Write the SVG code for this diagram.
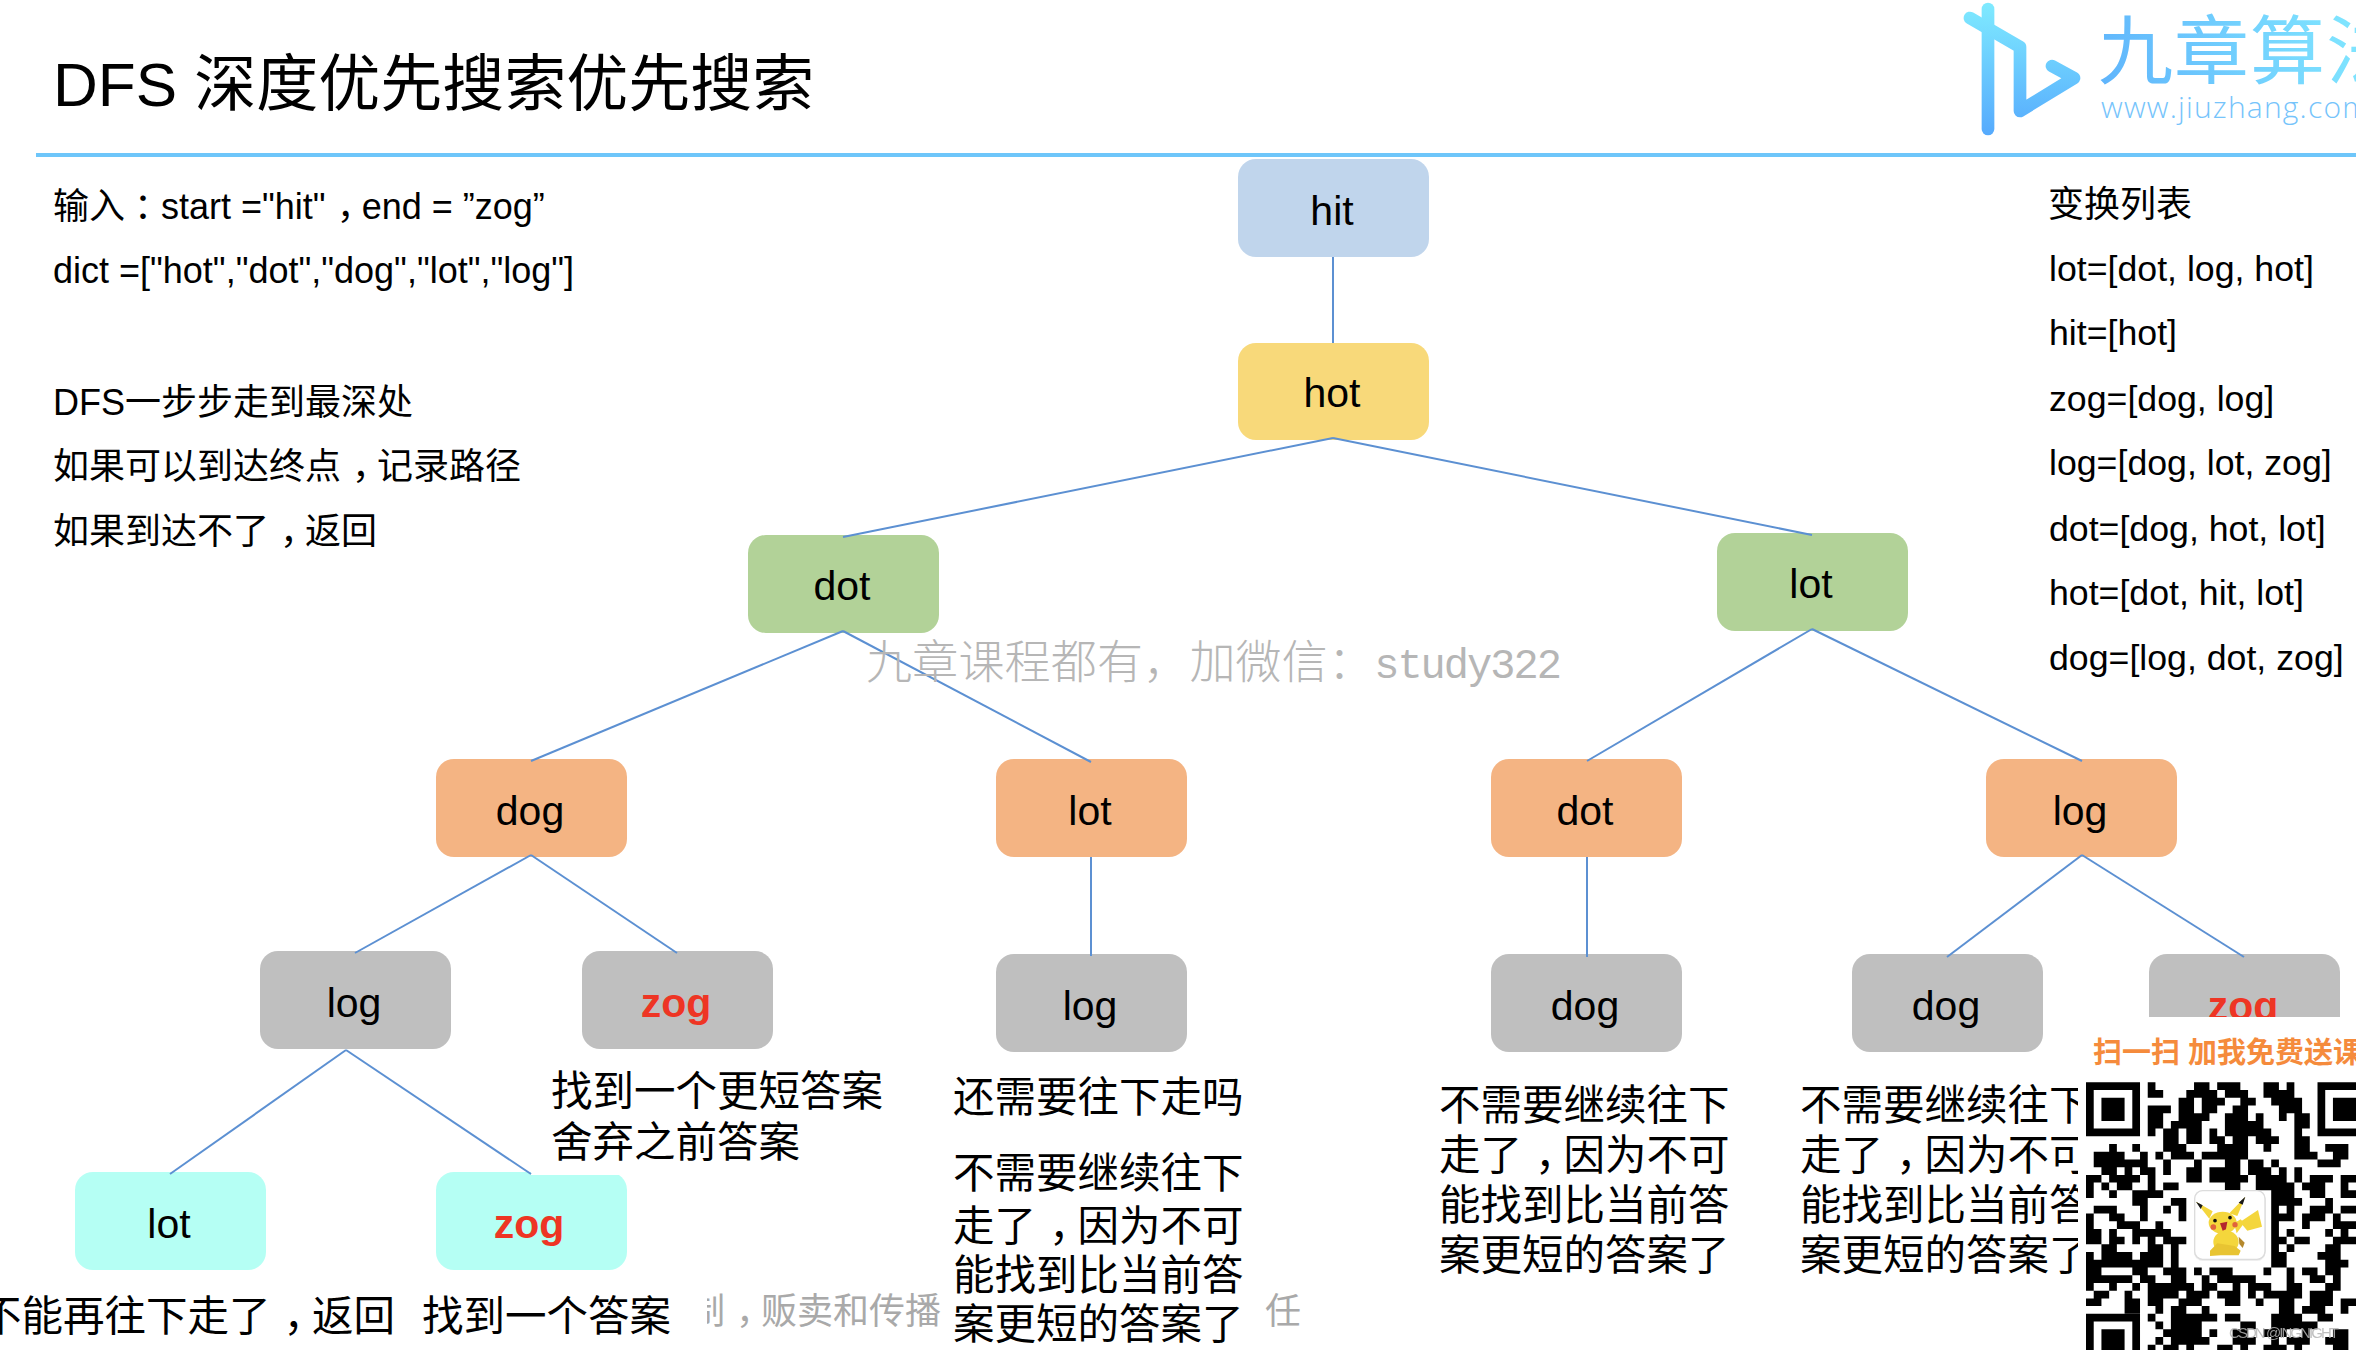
<svg xmlns="http://www.w3.org/2000/svg" width="2356" height="1350" viewBox="0 0 2356 1350">
<style>
text{font-family:"Liberation Sans","Noto Sans CJK SC",sans-serif;fill:#000}
.n{font-size:41px;text-anchor:middle}
.z{font-size:41px;font-weight:700;fill:#ee3524;text-anchor:middle}
.t{font-size:36px}
.l{font-size:35.7px}
.c{font-size:41.5px}
.g{font-size:36px;fill:#a9a9a9}
.edge{stroke:#5c90d2;stroke-width:2;fill:none}
.hit{fill:#c0d5ec}.hot{fill:#f8d97a}.gr{fill:#b2d298}.or{fill:#f4b483}.gy{fill:#bfbfbf}.cy{fill:#b5fff4}
</style>
<defs>
<linearGradient id="lg" gradientUnits="userSpaceOnUse" x1="0" y1="0" x2="0" y2="137"><stop offset="0" stop-color="#80ecff"/><stop offset="1" stop-color="#55a9fd"/></linearGradient>
<linearGradient id="lt" gradientUnits="userSpaceOnUse" x1="2100" y1="90" x2="2340" y2="10"><stop offset="0" stop-color="#5fb4fc"/><stop offset="1" stop-color="#7fe4ff"/></linearGradient>
<clipPath id="gc"><rect x="707" y="1280" width="240" height="70"/></clipPath>
<filter id="sh" x="-20%" y="-20%" width="140%" height="140%"><feDropShadow dx="0" dy="1" stdDeviation="2" flood-color="#000" flood-opacity=".2"/></filter>
</defs>
<rect width="2356" height="1350" fill="#fff"/>

<text x="53" y="106" style="font-size:62px">DFS 深度优先搜索优先搜索</text>
<rect x="36" y="153" width="2320" height="4" fill="#6ec6fa"/>

<g id="logo">
<polyline points="1970,18 2020,47 2020,111 2074,78 2052,66" fill="none" stroke="url(#lg)" stroke-width="12.7" stroke-linecap="round" stroke-linejoin="round"/>
<line x1="1988" y1="9" x2="1988" y2="129" stroke="url(#lg)" stroke-width="12.7" stroke-linecap="round"/>
<text x="2098" y="78" style="font-size:75px;letter-spacing:1px;fill:url(#lt)">九章算法</text>
<text x="2101" y="118" style="font-family:'Open Sans',sans-serif;font-weight:300;font-size:30px;letter-spacing:1.2px;fill:#76c4fb">www.jiuzhang.com</text>
</g>

<g id="intro">
<text class="t" x="53" y="219">输入<tspan dx="9">：</tspan><tspan dx="-9">start ="hit"</tspan><tspan dx="11">，</tspan><tspan dx="-11">end = ”zog”</tspan></text>
<text class="t" x="53" y="283">dict =["hot","dot","dog","lot","log"]</text>
<text class="t" x="53" y="415">DFS一步步走到最深处</text>
<text class="t" x="53" y="479">如果可以到达终点<tspan dx="11">，</tspan><tspan dx="-11">记录路径</tspan></text>
<text class="t" x="53" y="544">如果到达不了<tspan dx="11">，</tspan><tspan dx="-11">返回</tspan></text>
</g>

<g id="list">
<text class="t" x="2048" y="217">变换列表</text>
<text class="l" x="2049" y="281">lot=[dot, log, hot]</text>
<text class="l" x="2049" y="345">hit=[hot]</text>
<text class="l" x="2049" y="411">zog=[dog, log]</text>
<text class="l" x="2049" y="475">log=[dog, lot, zog]</text>
<text class="l" x="2049" y="541">dot=[dog, hot, lot]</text>
<text class="l" x="2049" y="605">hot=[dot, hit, lot]</text>
<text class="l" x="2049" y="670">dog=[log, dot, zog]</text>
</g>

<g id="copyright">
<text class="g" x="689" y="1324" clip-path="url(#gc)">制<tspan dx="11">，</tspan><tspan dx="-11">贩卖和传播</tspan></text>
<text class="g" x="1265" y="1324">任</text>
</g>

<g id="node-hit"><rect class="hit" x="1238" y="159" width="191" height="98" rx="18"/><text class="n" x="1332" y="225">hit</text></g>
<g id="node-hot"><rect class="hot" x="1238" y="343" width="191" height="97" rx="18"/><text class="n" x="1332" y="407">hot</text></g>
<g id="node-dot"><rect class="gr" x="748" y="535" width="191" height="98" rx="18"/><text class="n" x="842" y="600">dot</text></g>
<g id="node-lot"><rect class="gr" x="1717" y="533" width="191" height="98" rx="18"/><text class="n" x="1811" y="598">lot</text></g>
<g id="node-dot-dog"><rect class="or" x="436" y="759" width="191" height="98" rx="18"/><text class="n" x="530" y="825">dog</text></g>
<g id="node-dot-lot"><rect class="or" x="996" y="759" width="191" height="98" rx="18"/><text class="n" x="1090" y="825">lot</text></g>
<g id="node-lot-dot"><rect class="or" x="1491" y="759" width="191" height="98" rx="18"/><text class="n" x="1585" y="825">dot</text></g>
<g id="node-lot-log"><rect class="or" x="1986" y="759" width="191" height="98" rx="18"/><text class="n" x="2080" y="825">log</text></g>
<g id="node-dog-log"><rect class="gy" x="260" y="951" width="191" height="98" rx="18"/><text class="n" x="354" y="1017">log</text></g>
<g id="node-dog-zog"><rect class="gy" x="582" y="951" width="191" height="98" rx="18"/><text class="z" x="676" y="1017">zog</text></g>
<g id="node-lot-log2"><rect class="gy" x="996" y="954" width="191" height="98" rx="18"/><text class="n" x="1090" y="1020">log</text></g>
<g id="node-dot-dog2"><rect class="gy" x="1491" y="954" width="191" height="98" rx="18"/><text class="n" x="1585" y="1020">dog</text></g>
<g id="node-log-dog"><rect class="gy" x="1852" y="954" width="191" height="98" rx="18"/><text class="n" x="1946" y="1020">dog</text></g>
<g id="node-log-zog"><rect class="gy" x="2149" y="954" width="191" height="98" rx="18"/><text class="z" x="2243" y="1020">zog</text></g>
<g id="node-leaf-lot"><rect class="cy" x="75" y="1172" width="191" height="98" rx="18"/><text class="n" x="169" y="1238">lot</text></g>
<g id="node-leaf-zog"><rect class="cy" x="436" y="1172" width="191" height="98" rx="18"/><text class="z" x="529" y="1238">zog</text></g>
<rect x="531" y="1168" width="100" height="7" fill="#fff"/>

<g id="connectors">
<line class="edge" x1="1333" y1="257" x2="1333" y2="343"/>
<line class="edge" x1="1333" y1="438" x2="843" y2="537"/>
<line class="edge" x1="1333" y1="438" x2="1812" y2="535"/>
<line class="edge" x1="843" y1="631" x2="531" y2="761"/>
<line class="edge" x1="843" y1="631" x2="1091" y2="762"/>
<line class="edge" x1="1812" y1="629" x2="1587" y2="761"/>
<line class="edge" x1="1812" y1="629" x2="2082" y2="761"/>
<line class="edge" x1="531" y1="855" x2="355" y2="953"/>
<line class="edge" x1="531" y1="855" x2="677" y2="953"/>
<line class="edge" x1="1091" y1="857" x2="1091" y2="956"/>
<line class="edge" x1="1587" y1="857" x2="1587" y2="957"/>
<line class="edge" x1="2082" y1="855" x2="1947" y2="957"/>
<line class="edge" x1="2082" y1="855" x2="2244" y2="957"/>
<line class="edge" x1="346" y1="1050" x2="170" y2="1174"/>
<line class="edge" x1="346" y1="1050" x2="531" y2="1174"/>
</g>

<g id="captions">
<text class="c" x="551" y="1106">找到一个更短答案</text>
<text class="c" x="551" y="1157">舍弃之前答案</text>
<text class="c" x="-20" y="1331">不能再往下走了<tspan dx="13">，</tspan><tspan dx="-13">返回</tspan></text>
<text class="c" x="422" y="1331">找到一个答案</text>
<text class="c" x="953" y="1112">还需要往下走吗</text>
<text class="c" x="953" y="1188">不需要继续往下</text>
<text class="c" x="953" y="1241">走了<tspan dx="13">，</tspan><tspan dx="-13">因为不可</tspan></text>
<text class="c" x="953" y="1290">能找到比当前答</text>
<text class="c" x="953" y="1339">案更短的答案了</text>
<text class="c" x="1439" y="1120">不需要继续往下</text>
<text class="c" x="1439" y="1170">走了<tspan dx="13">，</tspan><tspan dx="-13">因为不可</tspan></text>
<text class="c" x="1439" y="1220">能找到比当前答</text>
<text class="c" x="1439" y="1270">案更短的答案了</text>
<text class="c" x="1800" y="1120">不需要继续往下</text>
<text class="c" x="1800" y="1170">走了<tspan dx="13">，</tspan><tspan dx="-13">因为不可</tspan></text>
<text class="c" x="1800" y="1220">能找到比当前答</text>
<text class="c" x="1800" y="1270">案更短的答案了</text>
</g>

<text id="watermark" x="866" y="678" style="font-family:'Liberation Serif','Noto Sans CJK SC',serif;font-size:46px;font-weight:300;fill:#b6b6b6;letter-spacing:.2px">九章课程都有，加微信：<tspan style="font-family:'Liberation Mono',monospace;font-size:42px;letter-spacing:-2px">study322</tspan></text>

<g id="promo">
<rect x="2078" y="1017" width="278" height="333" fill="#fff"/>
<text x="2093" y="1063" style="font-size:29px;font-weight:700;fill:#f58b3c">扫一扫 加我免费送课</text>
<g transform="translate(2086,1082.3) scale(7.717)">
<path fill="#000" fill-rule="evenodd" d="M0 0h7v7h-7zM1 1h5v5h-5zM2 2h3v3h-3zM30 0h7v7h-7zM31 1h5v5h-5zM32 2h3v3h-3zM0 30h7v7h-7zM1 31h5v5h-5zM2 32h3v3h-3z"/>
<path fill="#000" d="M8 0h1v1h-1zM14 0h2v1h-2zM17 0h3v1h-3zM23 0h2v1h-2zM26 0h1v1h-1zM8 1h2v1h-2zM13 1h4v1h-4zM18 1h3v1h-3zM23 1h4v1h-4zM12 2h2v1h-2zM15 2h3v1h-3zM20 2h2v1h-2zM24 2h4v1h-4zM8 3h3v1h-3zM12 3h2v1h-2zM15 3h2v1h-2zM19 3h2v1h-2zM25 3h3v1h-3zM8 4h2v1h-2zM12 4h4v1h-4zM18 4h3v1h-3zM22 4h1v1h-1zM25 4h1v1h-1zM27 4h2v1h-2zM8 5h2v1h-2zM11 5h4v1h-4zM18 5h5v1h-5zM27 5h2v1h-2zM8 6h1v1h-1zM10 6h2v1h-2zM13 6h2v1h-2zM16 6h1v1h-1zM18 6h6v1h-6zM27 6h1v1h-1zM10 7h2v1h-2zM13 7h2v1h-2zM16 7h2v1h-2zM19 7h2v1h-2zM22 7h3v1h-3zM27 7h2v1h-2zM3 8h1v1h-1zM6 8h1v1h-1zM10 8h3v1h-3zM17 8h4v1h-4zM23 8h1v1h-1zM27 8h2v1h-2zM31 8h3v1h-3zM1 9h4v1h-4zM7 9h1v1h-1zM9 9h1v1h-1zM11 9h3v1h-3zM15 9h6v1h-6zM27 9h3v1h-3zM32 9h2v1h-2zM1 10h7v1h-7zM10 10h1v1h-1zM14 10h1v1h-1zM18 10h2v1h-2zM21 10h2v1h-2zM24 10h1v1h-1zM30 10h3v1h-3zM2 11h2v1h-2zM5 11h1v1h-1zM7 11h2v1h-2zM10 11h1v1h-1zM13 11h2v1h-2zM16 11h4v1h-4zM21 11h3v1h-3zM25 11h1v1h-1zM27 11h1v1h-1zM0 12h2v1h-2zM3 12h4v1h-4zM8 12h1v1h-1zM13 12h2v1h-2zM16 12h5v1h-5zM22 12h4v1h-4zM27 12h1v1h-1zM29 12h3v1h-3zM33 12h2v1h-2zM0 13h1v1h-1zM2 13h1v1h-1zM4 13h2v1h-2zM8 13h1v1h-1zM10 13h2v1h-2zM18 13h2v1h-2zM22 13h5v1h-5zM28 13h3v1h-3zM33 13h1v1h-1zM0 14h1v1h-1zM3 14h1v1h-1zM6 14h4v1h-4zM24 14h3v1h-3zM29 14h2v1h-2zM33 14h2v1h-2zM6 15h2v1h-2zM11 15h2v1h-2zM24 15h4v1h-4zM31 15h1v1h-1zM1 16h3v1h-3zM7 16h1v1h-1zM10 16h1v1h-1zM12 16h1v1h-1zM24 16h1v1h-1zM26 16h1v1h-1zM29 16h3v1h-3zM33 16h2v1h-2zM0 17h1v1h-1zM3 17h2v1h-2zM7 17h1v1h-1zM12 17h1v1h-1zM24 17h3v1h-3zM28 17h3v1h-3zM32 17h1v1h-1zM0 18h1v1h-1zM4 18h3v1h-3zM9 18h1v1h-1zM24 18h1v1h-1zM28 18h1v1h-1zM32 18h3v1h-3zM0 19h2v1h-2zM3 19h1v1h-1zM6 19h5v1h-5zM24 19h1v1h-1zM26 19h1v1h-1zM31 19h1v1h-1zM33 19h1v1h-1zM0 20h2v1h-2zM3 20h2v1h-2zM6 20h1v1h-1zM8 20h1v1h-1zM10 20h3v1h-3zM24 20h2v1h-2zM27 20h2v1h-2zM32 20h3v1h-3zM2 21h2v1h-2zM8 21h2v1h-2zM11 21h1v1h-1zM24 21h1v1h-1zM26 21h1v1h-1zM31 21h2v1h-2zM0 22h1v1h-1zM2 22h4v1h-4zM7 22h3v1h-3zM11 22h1v1h-1zM24 22h2v1h-2zM30 22h3v1h-3zM0 23h2v1h-2zM2 23h8v1h-8zM11 23h1v1h-1zM24 23h2v1h-2zM31 23h3v1h-3zM0 24h2v1h-2zM6 24h2v1h-2zM10 24h2v1h-2zM12 24h1v1h-1zM14 24h1v1h-1zM16 24h3v1h-3zM23 24h1v1h-1zM26 24h1v1h-1zM28 24h2v1h-2zM31 24h2v1h-2zM0 25h6v1h-6zM7 25h2v1h-2zM11 25h2v1h-2zM15 25h1v1h-1zM17 25h2v1h-2zM19 25h3v1h-3zM26 25h1v1h-1zM29 25h2v1h-2zM32 25h1v1h-1zM0 26h1v1h-1zM3 26h1v1h-1zM6 26h1v1h-1zM8 26h6v1h-6zM15 26h2v1h-2zM19 26h1v1h-1zM21 26h3v1h-3zM26 26h2v1h-2zM31 26h2v1h-2zM1 27h2v1h-2zM5 27h1v1h-1zM8 27h4v1h-4zM13 27h3v1h-3zM17 27h3v1h-3zM21 27h1v1h-1zM23 27h5v1h-5zM29 27h3v1h-3zM0 28h2v1h-2zM5 28h2v1h-2zM8 28h2v1h-2zM12 28h3v1h-3zM18 28h2v1h-2zM22 28h1v1h-1zM25 28h2v1h-2zM29 28h3v1h-3zM33 28h2v1h-2zM5 29h2v1h-2zM9 29h1v1h-1zM11 29h2v1h-2zM15 29h1v1h-1zM25 29h2v1h-2zM28 29h3v1h-3zM33 29h1v1h-1zM8 30h1v1h-1zM11 30h6v1h-6zM18 30h2v1h-2zM24 30h4v1h-4zM30 30h2v1h-2zM9 31h1v1h-1zM11 31h4v1h-4zM20 31h2v1h-2zM24 31h4v1h-4zM28 31h2v1h-2zM10 32h5v1h-5zM16 32h1v1h-1zM19 32h2v1h-2zM23 32h3v1h-3zM28 32h1v1h-1zM32 32h2v1h-2zM9 33h1v1h-1zM11 33h5v1h-5zM19 33h3v1h-3zM24 33h1v1h-1zM26 33h3v1h-3zM31 33h3v1h-3zM8 34h1v1h-1zM10 34h2v1h-2zM13 34h1v1h-1zM17 34h2v1h-2zM20 34h1v1h-1zM23 34h3v1h-3zM27 34h1v1h-1zM32 34h2v1h-2z"/>
</g>
<g transform="translate(2190,1180) scale(.3333)">
<rect x="14" y="32" width="211" height="206" rx="24" fill="#fff" stroke="#dcdcdc" stroke-width="4" filter="url(#sh)"/>
<path fill="#f4d63c" d="M150 126 204 90 216 140 172 152Z"/>
<path fill="#f4d63c" d="M18 65 68 94 58 116ZM166 50 142 108 118 100Z"/>
<path fill="#1a1a1a" d="M18 65 38 76 32 87ZM166 50 158 74 146 68Z"/>
<ellipse cx="98" cy="128" rx="42" ry="33" fill="#f4d63c"/>
<path fill="#f4d63c" d="M132 130 152 118 162 130 140 160Z"/>
<ellipse cx="108" cy="186" rx="38" ry="34" fill="#f4d63c"/>
<path fill="#e8c432" d="M82 190 60 212 60 228 92 226 146 226 152 212 134 198Z"/>
<path fill="#b5892e" d="M146 170 164 188 158 204 148 192Z"/>
<circle cx="75" cy="122" r="5.5" fill="#111"/><circle cx="120" cy="113" r="5.5" fill="#111"/>
<circle cx="70" cy="141" r="8.5" fill="#e0643c"/><circle cx="135" cy="134" r="8" fill="#e0643c"/>
<path fill="#b3262e" d="M90 130 112 125 108 148 98 152Z"/>
</g>
<text x="2229" y="1338" textLength="110" style="font-size:15px;fill:#b4b4b4;opacity:.85">CSDN @INGNIGHT</text>
</g>
</svg>
